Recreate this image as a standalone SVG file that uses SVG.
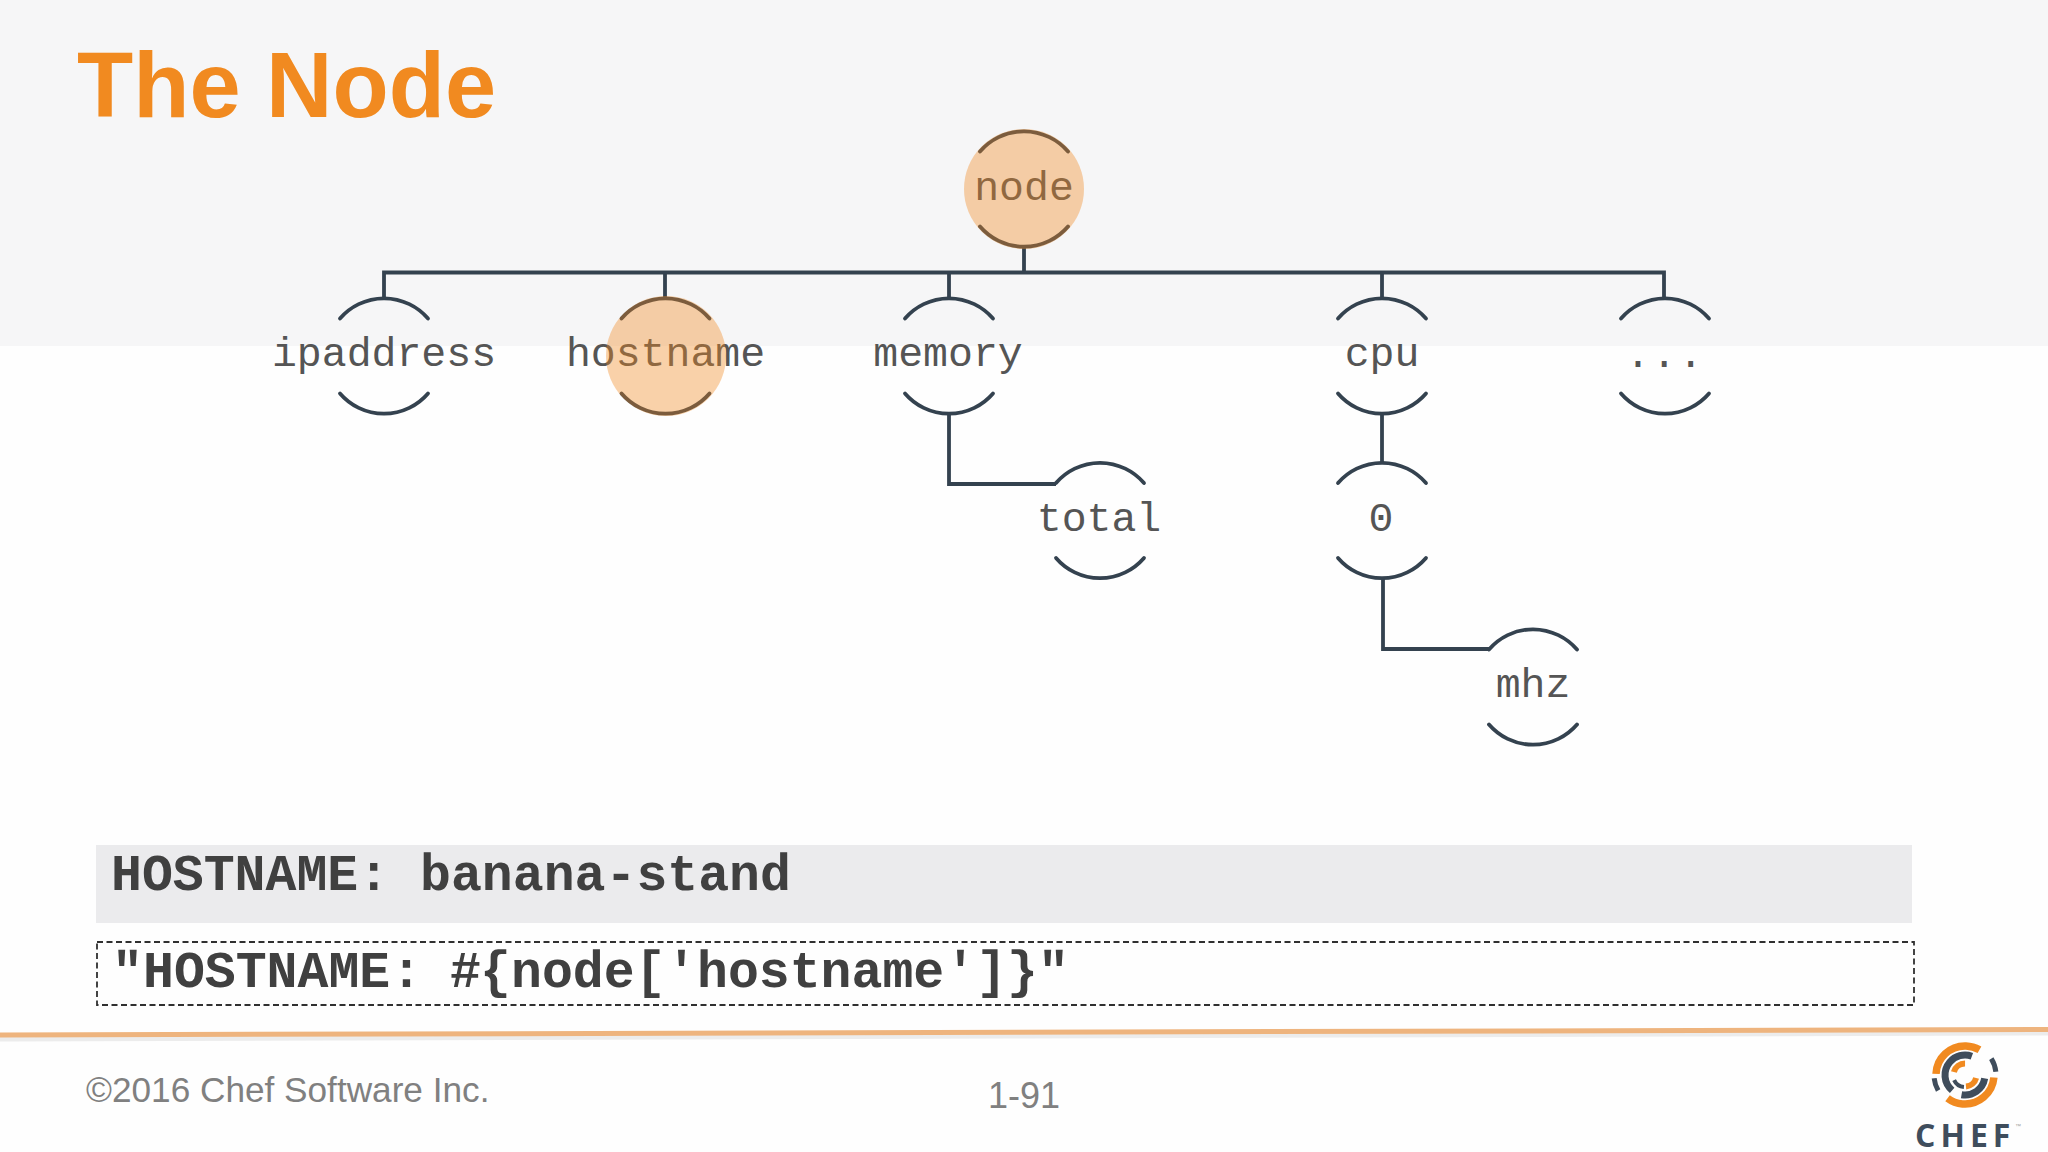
<svg xmlns="http://www.w3.org/2000/svg" width="2048" height="1152" viewBox="0 0 2048 1152">
<style>
.l{fill:none;stroke:#34424f;stroke-width:3.8}
.a{fill:none;stroke:#34424f;stroke-width:3.8;stroke-linecap:round}
.t{font-family:"Liberation Mono",monospace;font-size:41.500px;fill:#555;text-anchor:middle}
.c{font-family:"Liberation Mono",monospace;font-size:51.500px;font-weight:700;fill:#404040}
.f{font-family:"Liberation Sans",Arial,sans-serif;fill:#808080}
.h{fill:#f18a20;fill-opacity:.38}
.lo{fill:none;stroke:#f18a20}
.ld{fill:none;stroke:#3f4d5c}
</style>
<defs>
<g id="arcs"><path class="a" d="M-44-37.500A58 58 0 0 1 44-37.500"/><path class="a" d="M-44 37.500A58 58 0 0 0 44 37.500"/></g>
</defs>
<rect width="2048" height="1152" fill="#fefefe"/>
<rect id="band" width="2048" height="346" fill="#f6f6f7"/>
<text id="title" x="77" y="117" font-family="'Liberation Sans',Arial,sans-serif" font-size="92" font-weight="700" fill="#f18a20">The Node</text>
<g id="connectors">
<path class="l" d="M1024 248V272.500M384 297V272.500H1664V297M665 272.500V297M949 272.500V297M1382 272.500V297"/>
<path class="l" d="M949 414V484H1056"/>
<path class="l" d="M1382 414V462"/>
<path class="l" d="M1383 579V649H1489"/>
</g>
<g id="node-node"><use href="#arcs" x="1024" y="189"/><text class="t" x="1024" y="199.500">node</text><circle class="h" cx="1024" cy="189" r="60"/></g>
<g id="node-ipaddress"><use href="#arcs" x="384" y="356"/><text class="t" x="384" y="366">ipaddress</text></g>
<g id="node-hostname"><use href="#arcs" x="665.500" y="356"/><text class="t" x="665.500" y="366">hostname</text><circle class="h" cx="666" cy="356" r="60"/></g>
<g id="node-memory"><use href="#arcs" x="949" y="356"/><text class="t" x="948" y="366">memory</text></g>
<g id="node-cpu"><use href="#arcs" x="1382" y="356"/><text class="t" x="1382" y="366">cpu</text></g>
<g id="node-more"><use href="#arcs" x="1665" y="356"/><text class="t" x="1665" y="367" letter-spacing="1.500">...</text></g>
<g id="node-total"><use href="#arcs" x="1100" y="520.500"/><text class="t" x="1099" y="531">total</text></g>
<g id="node-0"><use href="#arcs" x="1382" y="520.500"/><text class="t" x="1381" y="531">0</text></g>
<g id="node-mhz"><use href="#arcs" x="1533" y="687"/><text class="t" x="1533" y="697">mhz</text></g>
<g id="output">
<rect x="96" y="845" width="1816" height="78" fill="#ebebed"/>
<text class="c" x="111" y="890">HOSTNAME: banana-stand</text>
</g>
<g id="code">
<rect x="97" y="942" width="1817" height="63" fill="none" stroke="#303030" stroke-width="1.800" stroke-dasharray="6 3.500"/>
<text class="c" y="987"><tspan x="112">"</tspan><tspan x="143">HOSTNAME</tspan><tspan x="391">:</tspan><tspan x="450">#</tspan><tspan x="480">{</tspan><tspan x="511">node</tspan><tspan x="635">[</tspan><tspan x="666">'</tspan><tspan x="697">hostname</tspan><tspan x="945">'</tspan><tspan x="976">]</tspan><tspan x="1007">}</tspan><tspan x="1038">"</tspan></text>
</g>
<g id="footer">
<path d="M0 1039L2048 1033" stroke="#ececec" stroke-width="5" fill="none"/>
<path d="M0 1035L2048 1029.500" stroke="#eeb47e" stroke-width="5" fill="none"/>
<text class="f" x="86" y="1102" font-size="35.200">©2016 Chef Software Inc.</text>
<text class="f" x="1024" y="1108" text-anchor="middle" font-size="36">1-91</text>
</g>
<g id="logo">
<g transform="translate(1965 1075)">
<circle class="lo" r="29" stroke-width="7.500" pathLength="360" stroke-dasharray="118 242" transform="rotate(182)"/>
<circle class="lo" r="29" stroke-width="7.500" pathLength="360" stroke-dasharray="122 238" transform="rotate(5)"/>
<circle class="ld" r="31" stroke-width="5" pathLength="360" stroke-dasharray="26 334" transform="rotate(-32)"/>
<circle class="ld" r="31" stroke-width="5" pathLength="360" stroke-dasharray="24 336" transform="rotate(150)"/>
<circle class="ld" r="20" stroke-width="7" pathLength="360" stroke-dasharray="160 200" transform="rotate(130)"/>
<circle class="ld" r="20" stroke-width="7" pathLength="360" stroke-dasharray="90 270" transform="rotate(10)"/>
<circle class="lo" r="11.500" stroke-width="6" pathLength="360" stroke-dasharray="75 285" transform="rotate(195)"/>
<circle class="lo" r="11.500" stroke-width="6" pathLength="360" stroke-dasharray="70 290" transform="rotate(15)"/>
<circle class="ld" r="12" stroke-width="4" pathLength="360" stroke-dasharray="60 300" transform="rotate(95)"/>
</g>
<text x="1915" y="1147" font-family="'Open Sans','Liberation Sans',sans-serif" font-size="32" font-weight="700" letter-spacing="5" fill="#3f4d5c">CHEF</text>
<text x="2015" y="1128" font-family="'Liberation Sans',sans-serif" font-size="6" fill="#a0a0a0">™</text>
</g>
</svg>
